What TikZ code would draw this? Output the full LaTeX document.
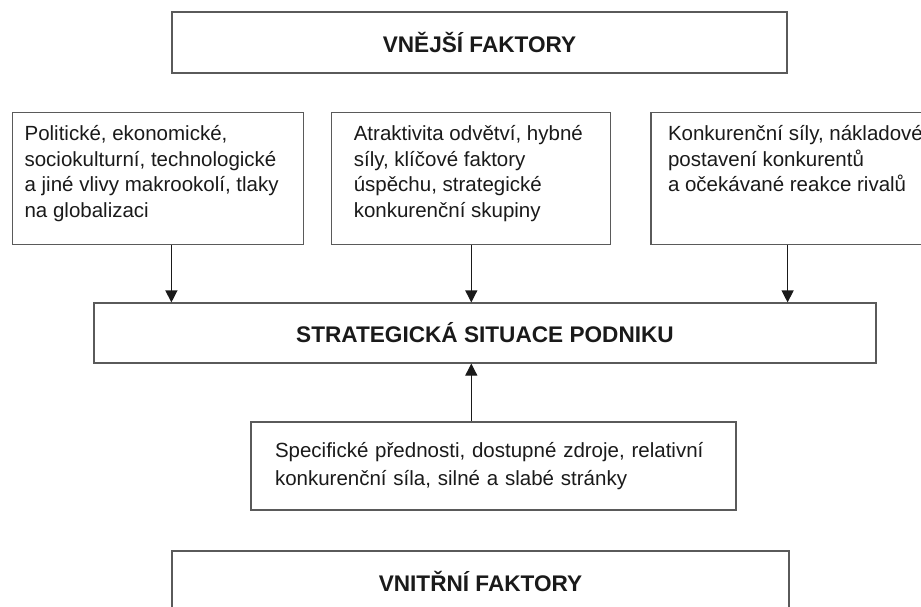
\documentclass[tikz,border=0pt]{standalone}
\usepackage{fontspec}
\setmainfont{Liberation Sans}
\usepackage{xcolor}
\definecolor{cLine}{HTML}{5A5A5A}
\definecolor{cText}{HTML}{1A1A1A}
\usetikzlibrary{positioning,arrows.meta}
\newcommand{\factortext}[2]{\parbox[t][111pt][t]{#1}{\raggedright\strut #2}}
\tikzset{
  node-title/.style={draw=cLine,line width=1.2pt,minimum height=61pt,
    text=cText,font=\fontsize{22.6}{26}\selectfont\bfseries},
  node-factor/.style={draw=cLine,line width=1.2pt,anchor=north west,
    inner ysep=10.5pt,text=cText,font=\fontsize{20.5}{25.5}\selectfont},
  arrow/.style={-{Triangle[length=12pt,width=12pt]},line width=1.2pt,draw=cText},
}
\begin{document}
\begin{tikzpicture}[x=1pt,y=-1pt]
  \useasboundingbox (0,0) rectangle (921,607);
  \clip (0,0) rectangle (921,607);
  % vnejsi faktory
  \node[node-title,minimum width=615pt] (ext) at (479.5,42.5) {VNĚJŠÍ FAKTORY};
  \node[node-factor,inner xsep=12pt] (macro) at (12,112)
    {\factortext{267pt}{Politické, ekonomické,\\sociokulturní, technologické\\%
      a jiné vlivy makrookolí, tlaky\\na globalizaci}};
  \node[node-factor,inner xsep=22pt,right=27pt of macro] (branch)
    {\factortext{235pt}{Atraktivita odvětví, hybné\\síly, klíčové faktory\\%
      úspěchu, strategické\\konkurenční skupiny}};
  \node[node-factor,inner xsep=17pt,right=39pt of branch] (rival)
    {\factortext{280pt}{Konkurenční síly, nákladové\\postavení konkurentů\\%
      a očekávané reakce rivalů}};
  % situace
  \node[node-title,minimum width=782pt,minimum height=60pt] (sit) at (485,333)
    {STRATEGICKÁ SITUACE PODNIKU};
  % vnitrni faktory
  \node[draw=cLine,line width=1.2pt,minimum width=485pt,minimum height=88pt,
    text width=437pt,align=left,text=cText,
    font=\fontsize{20.5}{28}\selectfont] (res) at (493.5,466)
    {Specifické přednosti, dostupné zdroje, relativní\\%
     konkurenční síla, silné a slabé stránky};
  \node[node-title,minimum width=617pt] (int) at (480.5,581.5) {VNITŘNÍ FAKTORY};
  % sipky
  \draw[arrow] (ext.west |- macro.south) -- (ext.west |- sit.north);
  \draw[arrow] (branch.south) -- (branch.south |- sit.north);
  \draw[arrow] (ext.east |- rival.south) -- (ext.east |- sit.north);
  \draw[arrow] (branch.south |- res.north) -- (branch.south |- sit.south);
\end{tikzpicture}
\end{document}
